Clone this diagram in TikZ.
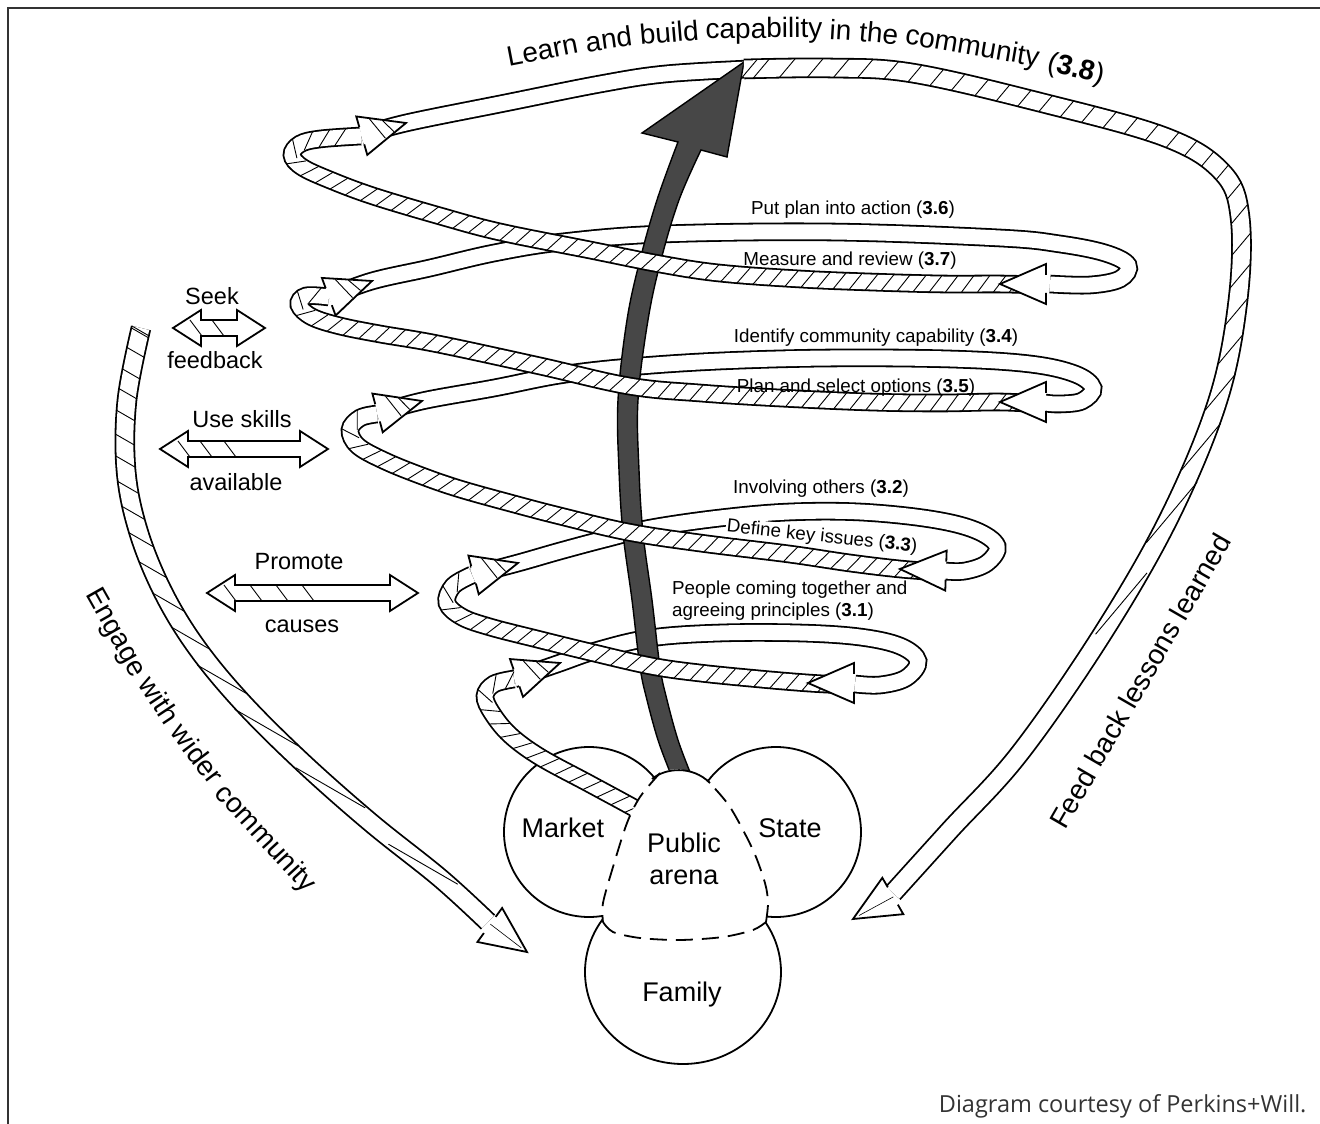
\documentclass[tikz,border=0pt]{standalone}
\usepackage{fontspec}
\setmainfont{Liberation Sans}
\newfontfamily\creditfont{Open Sans}
\usetikzlibrary{decorations.markings}

\newcommand\stepfont{\fontsize{18.8}{22}\selectfont}
\newcommand\sidefont{\fontsize{23.5}{28}\selectfont}
\newcommand\sectorfont{\fontsize{27}{32}\selectfont}
\newcommand\arcfont{\fontsize{28}{34}\selectfont}

\newcommand\globalmark[3]{%
  \pgfgettransformentries{\hta}{\htb}{\htc}{\htd}{\hte}{\htf}%
  \pgfmathtruncatemacro\hk{floor((-\hte*sin(#1)+\htf*cos(#1))/#3)}%
  \ifx\hk\lastk\else
    \xdef\lastk{\hk}%
    \pgfmathsetmacro\hrel{#1-atan2(\htb,\hta)}%
    \pgfmathsetmacro\hlen{min(#2/max(abs(sin(\hrel)),0.01),40)}%
    \draw[black, line width=0.9pt] ({-\hlen*cos(\hrel)},{-\hlen*sin(\hrel)}) -- ({\hlen*cos(\hrel)},{\hlen*sin(\hrel)});
  \fi}

\newcommand\dblarrow[3]{%
  \draw[line width=1.8pt, fill=white] (#1,#3) -- ++(28,18) -- ++(0,-10) -- (#2-28,#3+8) -- ++(0,10) -- (#2,#3)
    -- ++(-28,-18) -- ++(0,10) -- (#1+28,#3-8) -- ++(0,-10) -- cycle;}

\tikzset{
  band/.style={draw=white, line width=15pt, preaction={draw=black, line width=18.6pt}},
  wideband/.style={draw=white, line width=17pt, preaction={draw=black, line width=20.6pt}},
  hatched/.style={postaction={decorate, decoration={markings,
    mark=between positions 0.01 and 0.99 step 16pt with {\draw[black, line width=0.9pt] (-6,-8) -- (6,8);}}}},
  globalhatch/.style={/utils/exec={\gdef\lastk{none}}, postaction={decorate, decoration={markings,
    mark=between positions 0.004 and 0.996 step 2pt with {\globalmark{#1}{9.5}{20}}}}},
  hatchline/.style={line width=0.9pt},
  word/.style={anchor=base, inner sep=0pt, font=\arcfont},
  lhead/.pic={
    \fill[white] (0,0) -- (-46,20) -- (-46,-20) -- cycle;
    \draw[hatchline] (-34,14) -- (-24,-9) (-22,9) -- (-14,-5);
    \draw[line width=1.8pt] (-46,9) -- (-46,20) -- (0,0) -- (-46,-20) -- (-46,-9);
  },
  rhead/.pic={
    \fill[white] (0,0) -- (-46,20) -- (-46,-20) -- cycle;
    \draw[line width=1.8pt] (-46,9) -- (-46,20) -- (0,0) -- (-46,-20) -- (-46,-9);
  },
  bighead/.pic={
    \fill[white] (0,0) -- (-46,21) -- (-46,-21) -- cycle;
    \draw[line width=0.6pt] (-46,1) -- (-7,0);
    \draw[line width=1.8pt] (-46,10) -- (-46,21) -- (0,0) -- (-46,-21) -- (-46,-10);
  },
}

\begin{document}
\begin{tikzpicture}[x=1pt,y=1pt,shift={(-660pt,562pt)}]
\useasboundingbox (0,0) rectangle (1320,-1124);
\draw[line width=2pt, black!80] (1320,-8) -- (8,-8) -- (8,-1124);

\coordinate (L1) at (560,-663);
\coordinate (L2) at (518,-563);
\coordinate (L3) at (422,-401);
\coordinate (L4) at (372,-281);
\coordinate (L5) at (406,-123);
\coordinate (R1) at (808,-683);
\coordinate (R2) at (900,-569);
\coordinate (R3) at (1000,-402);
\coordinate (R4) at (1000,-284);
\coordinate (FB) at (853,-919);
\coordinate (EW) at (527,-952);

% back of the spiral
\draw[band] plot[smooth,tension=0.6] coordinates {(514,-679) (L1) (595,-651) (650,-638) (720,-633) (800,-633) (860,-637) (900,-646) (918,-661) (906,-678) (880,-685) (855,-684)};
\draw[band] plot[smooth,tension=0.6] coordinates {(472,-575) (L2) (560,-551) (605,-539) (651,-528) (720,-518) (789,-512) (860,-512) (930,-519) (975,-530) (997,-546) (987,-563) (965,-571) (945,-571)};
\draw[band] plot[smooth,tension=0.6] coordinates {(377,-414) (L3) (494,-388) (560,-375) (629,-367) (720,-361) (831,-358) (950,-359) (1030,-364) (1075,-374) (1093,-388) (1082,-401) (1060,-404) (1045,-403)};
\draw[band] plot[smooth,tension=0.6] coordinates {(329,-297) (L4) (430,-268) (494,-253) (562,-242) (663,-234) (831,-232) (1000,-238) (1060,-244) (1105,-253) (1128,-265) (1120,-279) (1090,-285) (1050,-284)};
\draw[band] plot[smooth,tension=0.6] coordinates {(361,-136) (L5) (505,-103) (600,-84) (665,-74) (748,-69)};

% public arena arrow
\draw[line width=1.4pt, fill=black!72] (744,-62) -- (642,-133) -- (678,-142)
  -- plot[smooth,tension=0.6] coordinates {(678,-142) (657,-200) (640,-260) (627,-320) (618,-400) (619,-470) (623,-533) (632,-600) (640,-667) (647,-700) (658,-740) (670,-772)}
  -- (690,-772)
  -- plot[smooth,tension=0.6] coordinates {(690,-772) (678,-740) (667,-700) (660,-667) (652,-600) (643,-533) (639,-470) (638,-400) (648,-320) (661,-260) (679,-200) (701,-150)}
  -- (727,-157) -- cycle;

% sectors
\draw[line width=1.8pt, fill=white] (683,-972) ellipse [x radius=98, y radius=92];
\draw[line width=1.8pt, fill=white] (589,-832) circle [radius=85];
\draw[line width=1.8pt, fill=white] (776,-832) circle [radius=85];

\draw[band, hatched] plot[smooth,tension=0.6] coordinates {(650,-818) (636,-809) (590,-784) (540,-757) (510,-735) (492,-713) (485,-696) (494,-684) (514,-679)};

\fill[white] plot[smooth,tension=0.5] coordinates {(680,-769) (660,-773) (640,-797) (627,-823) (613,-867) (603,-903) (603,-922)}
  -- plot[smooth,tension=0.5] coordinates {(603,-922) (613,-932) (640,-938) (680,-940) (723,-937) (753,-930) (766,-922)}
  -- plot[smooth,tension=0.5] coordinates {(766,-922) (768,-903) (765,-883) (753,-850) (730,-807) (707,-780) (680,-769)} -- cycle;
\draw[line width=1.8pt, dash pattern=on 17pt off 9pt] plot[smooth,tension=0.5] coordinates {(660,-773) (640,-797) (627,-823) (613,-867) (603,-903) (603,-922)}
  plot[smooth,tension=0.5] coordinates {(603,-922) (613,-932) (640,-938) (680,-940) (723,-937) (753,-930) (766,-922)}
  plot[smooth,tension=0.5] coordinates {(766,-922) (768,-903) (765,-883) (753,-850) (730,-807) (707,-780)};
\draw[line width=1.8pt] (652,-779) .. controls (665,-768) and (692,-765) .. (710,-783);

% front of the spiral
\draw[band, hatched] plot[smooth,tension=0.6] coordinates {(845,-685) (R1) (760,-679) (700,-673) (651,-666) (590,-652) (537,-639) (490,-627) (462,-617) (447,-603) (453,-586) (472,-575)};
\draw[band, hatched] plot[smooth,tension=0.6] coordinates {(940,-572) (R2) (850,-563) (789,-554) (700,-543) (628,-532) (560,-516) (514,-504) (460,-489) (422,-476) (385,-461) (358,-446) (350,-430) (360,-418) (377,-414)};
\draw[band, hatched] plot[smooth,tension=0.6] coordinates {(1040,-404) (R3) (940,-403) (870,-402) (780,-398) (700,-393) (629,-386) (540,-366) (438,-344) (380,-334) (340,-326) (312,-317) (299,-305) (306,-296) (329,-297)};
\draw[band, hatched] plot[smooth,tension=0.6] coordinates {(1040,-285) (R4) (943,-284) (870,-282) (800,-279) (719,-273) (660,-264) (590,-250) (500,-232) (440,-216) (373,-196) (330,-180) (302,-167) (292,-155) (300,-144) (320,-139) (361,-136)};

\draw[wideband, globalhatch=50] plot[smooth,tension=0.6] coordinates {(744,-69) (830,-68) (912,-73) (1039,-102) (1165,-137) (1222,-172) (1240,-217) (1238,-300) (1218,-400) (1170,-516) (1103,-633) (1020,-753) (950,-830) (893,-893)};
\draw[wideband, globalhatch=-30] plot[smooth,tension=0.6] coordinates {(141,-328) (127,-400) (126,-470) (138,-530) (162,-590) (195,-645) (240,-700) (300,-760) (370,-822) (440,-878) (488,-922)};

\pic[rotate=19] at (L1) {lhead};
\pic[rotate=15] at (L2) {lhead};
\pic[rotate=15] at (L3) {lhead};
\pic[rotate=20] at (L4) {lhead};
\pic[rotate=16] at (L5) {lhead};
\pic[rotate=180] at (R1) {rhead};
\pic[rotate=178] at (R2) {rhead};
\pic[rotate=180] at (R3) {rhead};
\pic[rotate=180] at (R4) {rhead};
\pic[rotate=210] at (FB) {bighead};
\pic[rotate=-36] at (EW) {bighead};

% side arrows
\dblarrow{173}{265}{-328}
\draw[hatchline] (190,-320) -- (202,-336) (212,-320) -- (224,-336);
\dblarrow{160}{328}{-449}
\draw[hatchline] (178,-441) -- (190,-457) (200,-441) -- (212,-457) (224,-441) -- (236,-457);
\dblarrow{207}{418}{-593}
\draw[hatchline] (224,-585) -- (236,-601) (250,-585) -- (262,-601) (276,-585) -- (288,-601) (302,-585) -- (314,-601);

% labels
\node[anchor=base] (seek) at (212,-305) {\sidefont Seek};
\node[anchor=base] (feedback) at (215,-369) {\sidefont feedback};
\node[anchor=base] (skills) at (242,-428) {\sidefont Use skills};
\node[anchor=base] (avail) at (236,-491) {\sidefont available};
\node[anchor=base] (promote) at (299,-570) {\sidefont Promote};
\node[anchor=base] (causes) at (302,-633) {\sidefont causes};

\node (s36) at (853,-210) {\stepfont Put plan into action (\textbf{3.6})};
\node (s37) at (850,-261) {\stepfont Measure and review (\textbf{3.7})};
\node (s34) at (876,-338) {\stepfont Identify community capability (\textbf{3.4})};
\node (s35) at (856,-388) {\stepfont Plan and select options (\textbf{3.5})};
\node (s32) at (821,-489) {\stepfont Involving others (\textbf{3.2})};
\node[fill=white, inner sep=1pt, rotate=-6] (s33) at (822,-537) {\stepfont Define key issues (\textbf{3.3})};
\node[anchor=north west, align=left, inner sep=0pt, font=\stepfont] (s31) at (672,-581) {People coming together and\\agreeing principles (\textbf{3.1})};

\node[anchor=base] (market) at (563,-837) {\sectorfont Market};
\node[anchor=base] (state) at (790,-837) {\sectorfont State};
\node[align=center, font=\sectorfont] (arena) at (684,-859) {Public\\arena};
\node[anchor=base] (family) at (682,-1001) {\sectorfont Family};

\node[word, rotate=10.9] (w1) at (544,-59.7) {Learn};
\node[word, rotate=7.8] (w2) at (610,-48.9) {and};
\node[word, rotate=4.9] (w3) at (670,-42.3) {build};
\node[word, rotate=0.3] (w4) at (764,-38) {capability};
\node[word, rotate=-3.4] (w5) at (840,-40.1) {in};
\node[word, rotate=-5.2] (w6) at (878,-43) {the};
\node[word, rotate=-9.7] (w7) at (971,-55.3) {community};
\node[word, rotate=-14] (w8) at (1074,-77) {(\textbf{3.8})};

\node[word, rotate=-60.5] (e1) at (108.9,-636.6) {Engage};
\node[word, rotate=-56.4] (e2) at (151.2,-705.5) {with};
\node[word, rotate=-53] (e3) at (189.5,-759.7) {wider};
\node[word, rotate=-47.5] (e4) at (259.5,-844) {community};

\node[rotate=60, font=\arcfont] (feedlbl) at (1140,-681) {Feed back lessons learned};

\node[anchor=base east, text=black!80] (credit) at (1310,-1112) {\creditfont\fontsize{23.5}{28}\selectfont Diagram courtesy of Perkins+Will.};
\end{tikzpicture}
\end{document}
